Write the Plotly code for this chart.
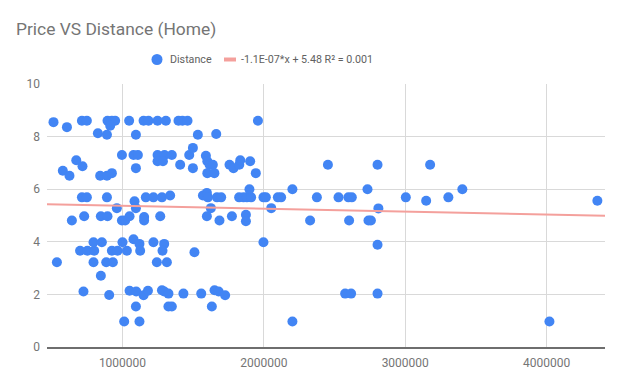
import plotly.graph_objects as go

# Distance (x) and Price (y) values
distance = [
    512000, 607000, 713000, 748000, 826000, 890000, 894000, 925000, 948000, 913000,
    1047000, 1095000, 1149000, 1184000, 1248000, 1307000, 1396000, 1424000, 1460000,
    1533000, 1663000, 1958000,
    996000, 1078000, 1109000, 1095000, 1248000, 1297000, 1349000, 1248000, 1286000,
    1408000, 1472000, 1498000, 1498000, 1590000, 1600000, 1616000, 1639000, 1600000,
    1650000, 1757000, 1785000, 1826000, 1833000, 1903000, 1943000, 673000, 717000,
    578000, 625000, 842000, 890000, 925000,
    713000, 748000, 890000, 1165000, 1219000, 1279000, 1337000, 1569000, 1597000,
    1604000, 1668000, 1698000, 1825000, 1856000, 1880000, 1910000, 1898000, 1997000,
    2014000, 2099000, 2122000, 2202000, 2375000, 960000, 1085000, 1095000, 1625000,
    2052000,
    642000, 729000, 847000, 894000, 996000, 1019000, 1050000, 1153000, 1153000,
    1267000, 1597000, 1686000, 1774000, 1873000, 1873000, 2327000,
    795000, 854000, 1000000, 1078000, 1120000, 1219000, 1295000, 1997000, 700000,
    752000, 800000, 925000, 965000, 1031000, 1125000, 1283000, 1509000, 536000,
    795000, 885000, 932000, 1243000, 1314000, 847000,
    724000, 906000, 1050000, 1097000, 1149000, 1180000, 1279000, 1295000, 1325000,
    1431000, 1557000, 1651000, 1680000, 1726000, 1095000, 1325000, 1349000, 1632000,
    1012000, 1120000, 2202000,
    2453000, 2804000, 3176000, 2528000, 2598000, 2622000, 2733000, 3004000, 3148000,
    3305000, 3404000, 4359000, 2810000, 2603000, 2740000, 2757000, 2804000, 2575000,
    2617000, 2804000, 4020000,
]
price = [
    8.55, 8.36, 8.6, 8.6, 8.13, 8.07, 8.6, 8.6, 8.6, 8.41,
    8.6, 8.07, 8.6, 8.6, 8.6, 8.6, 8.6, 8.6, 8.6,
    8.07, 8.1, 8.6,
    7.3, 7.3, 7.3, 6.8, 7.3, 7.3, 7.3, 7.06, 7.06,
    6.93, 7.3, 7.57, 6.8, 7.27, 7.06, 6.93, 6.93, 6.61,
    6.61, 6.93, 6.8, 6.93, 7.1, 7.06, 6.61, 7.1, 6.87,
    6.7, 6.51, 6.51, 6.51, 6.61,
    5.69, 5.69, 5.69, 5.69, 5.69, 5.69, 5.76, 5.76, 5.86,
    5.69, 5.69, 5.69, 5.69, 5.69, 5.69, 5.69, 6.0, 5.69,
    5.69, 5.69, 5.69, 6.0, 5.69, 5.28, 5.54, 5.28, 5.28,
    5.28,
    4.81, 4.97, 4.97, 4.97, 4.81, 4.81, 4.97, 4.94, 4.81,
    4.97, 4.97, 4.81, 4.97, 5.03, 4.78, 4.81,
    3.98, 3.98, 3.98, 4.1, 3.92, 3.98, 3.92, 3.98, 3.66,
    3.66, 3.66, 3.66, 3.66, 3.66, 3.66, 3.66, 3.6, 3.22,
    3.22, 3.22, 3.22, 3.22, 3.22, 2.71,
    2.11, 1.98, 2.14, 2.11, 1.97, 2.14, 2.16, 2.11, 2.03,
    2.03, 2.03, 2.16, 2.11, 1.97, 1.54, 1.54, 1.54, 1.54,
    0.97, 0.97, 0.97,
    6.93, 6.93, 6.93, 5.69, 5.69, 5.69, 6.0, 5.69, 5.56,
    5.69, 6.0, 5.56, 5.27, 4.81, 4.81, 4.81, 3.89, 2.03,
    2.03, 2.03, 0.97,
]

# Linear trendline as labelled on the chart
slope = -1.1e-07
intercept = 5.48
series_label = "Distance"
trend_label = "-1.1E-07*x + 5.48 R\u00b2 = 0.001"

x_range = [466000, 4413000]
x_ticks = [1000000, 2000000, 3000000, 4000000]
y_ticks = [0, 2, 4, 6, 8, 10]

BLUE = "#4285F4"
TREND = "#F4A09C"

W, H = 624, 386
ML, MR, MT, MB = 47, 19, 84, 39
PW, PH = W - ML - MR, H - MT - MB


def px_x(p):
    return (p - ML) / PW


def px_y(p):
    return 1 + (MT - p) / PH


fig = go.Figure()
fig.add_trace(go.Scatter(
    x=distance, y=price, mode="markers", name=series_label,
    marker=dict(color=BLUE, size=10, line=dict(width=0)),
))
fig.add_trace(go.Scatter(
    x=x_range, y=[slope * v + intercept for v in x_range], mode="lines",
    name=trend_label, line=dict(color=TREND, width=2),
))

leg_y = px_y(59.5)
shapes = [
    dict(type="circle", xref="paper", yref="paper", xsizemode="pixel", ysizemode="pixel",
         xanchor=px_x(157), yanchor=leg_y, x0=-5.5, x1=5.5, y0=-5.5, y1=5.5,
         fillcolor=BLUE, line=dict(width=0)),
    dict(type="line", xref="paper", yref="paper", x0=px_x(224), x1=px_x(236),
         y0=leg_y, y1=leg_y, line=dict(color=TREND, width=4)),
]
annotations = [
    dict(text=series_label, xref="paper", yref="paper", x=px_x(168), y=leg_y,
         xanchor="left", yanchor="middle", showarrow=False,
         font=dict(size=10.7, color="#616161")),
    dict(text=trend_label, xref="paper", yref="paper", x=px_x(239), y=leg_y,
         xanchor="left", yanchor="middle", showarrow=False,
         font=dict(size=10.7, color="#616161")),
]

fig.update_layout(
    width=W, height=H,
    margin=dict(l=ML, r=MR, t=MT, b=MB),
    paper_bgcolor="white", plot_bgcolor="white",
    font=dict(family="Roboto", size=12, color="#757575"),
    title=dict(text="Price VS Distance (Home)", font=dict(size=17.4, color="#757575"),
               xref="container", x=16 / W, xanchor="left",
               yref="container", y=1 - 29 / H, yanchor="middle"),
    showlegend=False,
    shapes=shapes,
    annotations=annotations,
)
fig.update_xaxes(range=x_range, tickvals=x_ticks, ticktext=[str(v) for v in x_ticks],
                 showgrid=True, gridcolor="#d9d9d9", gridwidth=1, zeroline=False,
                 showline=True, linecolor="#6e6e6e", linewidth=2,
                 tickfont=dict(size=12, color="#757575"), ticks="", ticklabelstandoff=4)
fig.update_yaxes(range=[0, 10], tickvals=y_ticks, showgrid=True, gridcolor="#d9d9d9",
                 gridwidth=1, zeroline=False, showline=False,
                 tickfont=dict(size=12, color="#757575"), ticks="", ticklabelstandoff=6)

fig.write_html("out.html", config={"displayModeBar": False},
               post_script="document.body.style.margin='0';document.body.style.overflow='hidden';")
